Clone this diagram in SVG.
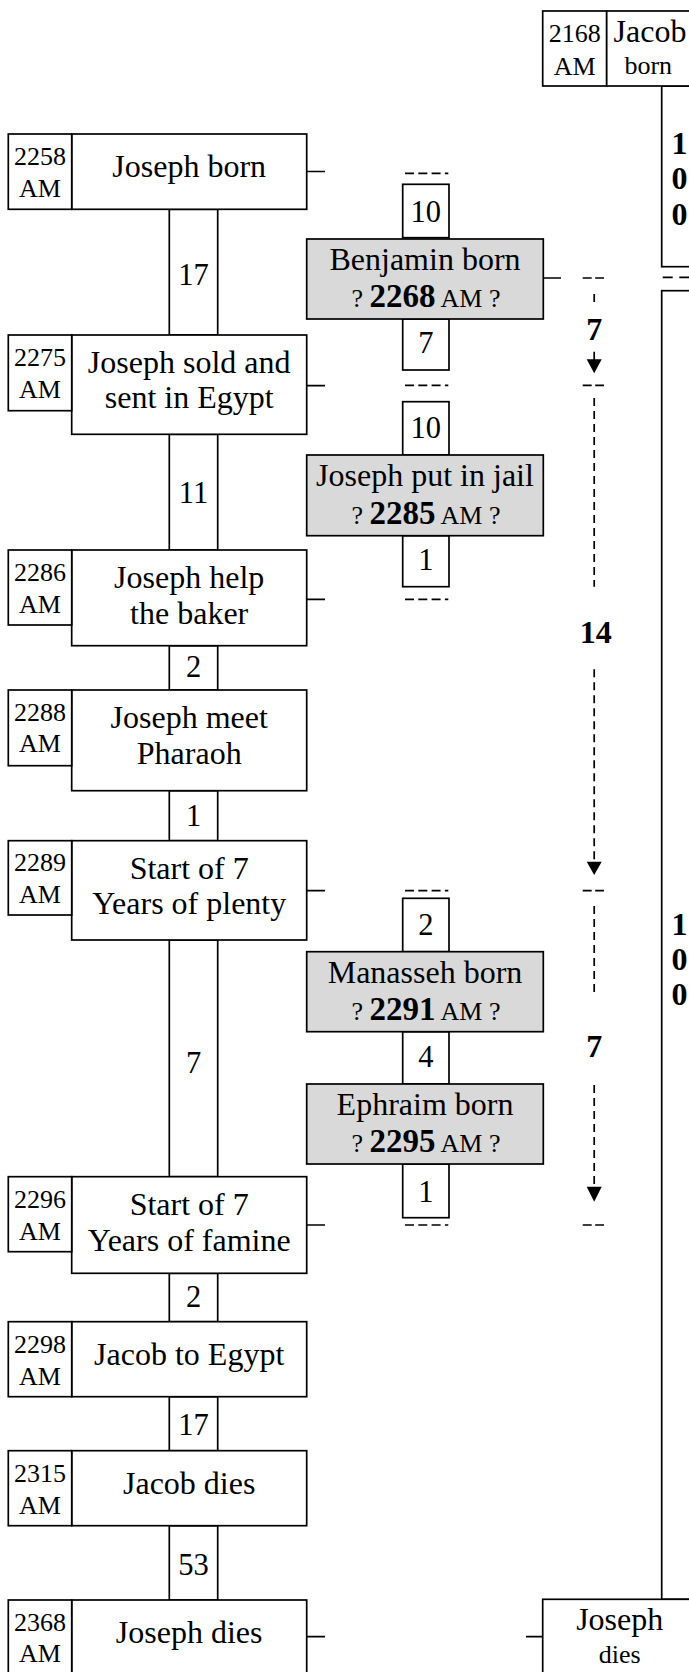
<svg xmlns="http://www.w3.org/2000/svg" width="689" height="1672" viewBox="0 0 689 1672">
<style>
.box{fill:#fff;stroke:#000;stroke-width:1.7}
.gray{fill:#d9d9d9;stroke:#000;stroke-width:1.7}
.ln{fill:none;stroke:#000;stroke-width:1.7}
.hd{fill:none;stroke:#000;stroke-width:1.7;stroke-dasharray:9 4.3}
.pd{fill:none;stroke:#000;stroke-width:1.7;stroke-dasharray:9 3.5}
.vd{fill:none;stroke:#000;stroke-width:1.7;stroke-dasharray:8 5}
.ah{fill:#000;stroke:none}
text{font-family:"Liberation Serif","Times New Roman",serif;fill:#000;text-anchor:middle}
.t{font-size:32px}
.d{font-size:26px}
.n{font-size:30.5px}
.s{font-size:26px}
.b{font-weight:bold;font-size:33px}
.bn{font-size:32px;font-weight:bold}
.bc{font-size:32px;font-weight:bold}
</style>
<rect width="689" height="1672" fill="#fff"/>

<g id="connectors">
  <!-- left duration connectors -->
  <rect class="box" x="169.3" y="209.3" width="48.4" height="125.7"/><text class="n" x="193.5" y="285">17</text>
  <rect class="box" x="169.3" y="434.3" width="48.4" height="115.7"/><text class="n" x="193.5" y="503.3">11</text>
  <rect class="box" x="169.3" y="645.7" width="48.4" height="44.3"/><text class="n" x="193.5" y="676.7">2</text>
  <rect class="box" x="169.3" y="790.7" width="48.4" height="50"/><text class="n" x="193.5" y="826">1</text>
  <rect class="box" x="169.3" y="940" width="48.4" height="236.7"/><text class="n" x="193.5" y="1073.3">7</text>
  <rect class="box" x="169.3" y="1273.3" width="48.4" height="48.4"/><text class="n" x="193.5" y="1307.3">2</text>
  <rect class="box" x="169.3" y="1396.7" width="48.4" height="54"/><text class="n" x="193.5" y="1435">17</text>
  <rect class="box" x="169.3" y="1525.7" width="48.4" height="74.3"/><text class="n" x="193.5" y="1575">53</text>

  <!-- middle duration boxes -->
  <rect class="box" x="402.7" y="184.3" width="46.3" height="53.4"/><text class="n" x="425.8" y="221.7">10</text>
  <rect class="box" x="402.7" y="319" width="46.3" height="51"/><text class="n" x="425.8" y="353.3">7</text>
  <rect class="box" x="402.7" y="401.7" width="46.3" height="53.3"/><text class="n" x="425.8" y="438.3">10</text>
  <rect class="box" x="402.7" y="535.7" width="46.3" height="51"/><text class="n" x="425.8" y="570">1</text>
  <rect class="box" x="402.7" y="898.3" width="46.3" height="53.4"/><text class="n" x="425.8" y="935">2</text>
  <rect class="box" x="402.7" y="1031.7" width="46.3" height="52.3"/><text class="n" x="425.8" y="1066.7">4</text>
  <rect class="box" x="402.7" y="1164" width="46.3" height="53.7"/><text class="n" x="425.8" y="1201.7">1</text>

  <!-- ticks -->
  <path class="ln" d="M306.7 171.5H325 M306.7 385.7H325 M306.7 599.3H325 M306.7 890.7H325 M306.7 1225H325 M306.7 1636.7H325 M543.3 278H561 M526 1636.7H542.7"/>

  <!-- middle dashed marks -->
  <path class="hd" d="M405 173.3H448.3 M405 385.3H448.3 M405 599.3H448.3 M405 890.7H448.3 M405 1225H448.3"/>
  <path class="pd" d="M582.7 278H604 M582.7 385.3H604 M582.7 890.7H604 M582.7 1225H604"/>
  <path class="ln" d="M662.7 277.3H672.7 M679.3 277.3H689"/>

  <!-- right dashed span arrows -->
  <path class="ln" d="M594.2 294V302 M594.2 351.7V360"/>
  <text class="bn" x="594.2" y="340">7</text>
  <path class="ah" d="M586.7 359.3H601.7L594.2 373.3Z"/>

  <path class="vd" d="M594.2 398V586.7 M594.2 669.3V862"/>
  <text class="bn" x="595.7" y="643.3">14</text>
  <path class="ah" d="M586.7 861.7H601.7L594.2 875Z"/>

  <path class="vd" d="M594.2 906V996.7 M594.2 1085V1187"/>
  <text class="bn" x="594.2" y="1056.7">7</text>
  <path class="ah" d="M586.7 1186.7H601.7L594.2 1201.7Z"/>

  <!-- 100 year spans -->
  <rect class="box" x="661.7" y="86" width="60" height="180.7"/>
  <text class="bc" x="679.5" y="153.5">1</text><text class="bc" x="679.5" y="189">0</text><text class="bc" x="679.5" y="225">0</text>
  <rect class="box" x="661.7" y="290.7" width="60" height="1308.6"/>
  <text class="bc" x="679.5" y="935">1</text><text class="bc" x="679.5" y="970">0</text><text class="bc" x="679.5" y="1005">0</text>
</g>

<g id="jacob-born">
  <rect class="box" x="542.7" y="11" width="64" height="75"/>
  <rect class="box" x="606.7" y="11" width="84" height="75"/>
  <text class="d" x="574.7" y="41.7">2168</text><text class="d" x="574.7" y="75">AM</text>
  <text class="t" x="650" y="41.7">Jacob</text><text class="d" x="648.3" y="74">born</text>
</g>

<g id="joseph-born">
  <rect class="box" x="71.7" y="134" width="235" height="75.3"/>
  <rect class="box" x="8.3" y="134" width="63.4" height="75.3"/>
  <text class="d" x="40" y="165">2258</text><text class="d" x="40" y="196.7">AM</text>
  <text class="t" x="189.2" y="176.7">Joseph born</text>
</g>

<g id="joseph-sold">
  <rect class="box" x="71.7" y="335" width="235" height="99.3"/>
  <rect class="box" x="8.3" y="335" width="63.4" height="75.7"/>
  <text class="d" x="40" y="366">2275</text><text class="d" x="40" y="398.3">AM</text>
  <text class="t" x="189.2" y="373.3">Joseph sold and</text><text class="t" x="189.2" y="408.3">sent in Egypt</text>
</g>

<g id="joseph-help">
  <rect class="box" x="71.7" y="550" width="235" height="95.7"/>
  <rect class="box" x="8.3" y="550" width="63.4" height="75"/>
  <text class="d" x="40" y="581">2286</text><text class="d" x="40" y="613">AM</text>
  <text class="t" x="189.2" y="588.3">Joseph help</text><text class="t" x="189.2" y="624">the baker</text>
</g>

<g id="joseph-meet">
  <rect class="box" x="71.7" y="690" width="235" height="100.7"/>
  <rect class="box" x="8.3" y="690" width="63.4" height="75.7"/>
  <text class="d" x="40" y="721.3">2288</text><text class="d" x="40" y="752.3">AM</text>
  <text class="t" x="189.2" y="728.3">Joseph meet</text><text class="t" x="189.2" y="764">Pharaoh</text>
</g>

<g id="years-plenty">
  <rect class="box" x="71.7" y="840.7" width="235" height="99.3"/>
  <rect class="box" x="8.3" y="840.7" width="63.4" height="74.3"/>
  <text class="d" x="40" y="871.3">2289</text><text class="d" x="40" y="903.3">AM</text>
  <text class="t" x="189.2" y="878.5">Start of 7</text><text class="t" x="189.2" y="913.5">Years of plenty</text>
</g>

<g id="years-famine">
  <rect class="box" x="71.7" y="1176.7" width="235" height="96.6"/>
  <rect class="box" x="8.3" y="1176.7" width="63.4" height="75"/>
  <text class="d" x="40" y="1207.7">2296</text><text class="d" x="40" y="1239.7">AM</text>
  <text class="t" x="189.2" y="1214.5">Start of 7</text><text class="t" x="189.2" y="1250.5">Years of famine</text>
</g>

<g id="jacob-to-egypt">
  <rect class="box" x="71.7" y="1321.7" width="235" height="75"/>
  <rect class="box" x="8.3" y="1321.7" width="63.4" height="75"/>
  <text class="d" x="40" y="1352.7">2298</text><text class="d" x="40" y="1384.7">AM</text>
  <text class="t" x="189.2" y="1365">Jacob to Egypt</text>
</g>

<g id="jacob-dies">
  <rect class="box" x="71.7" y="1450.7" width="235" height="75"/>
  <rect class="box" x="8.3" y="1450.7" width="63.4" height="75"/>
  <text class="d" x="40" y="1481.7">2315</text><text class="d" x="40" y="1513.5">AM</text>
  <text class="t" x="189.2" y="1493.5">Jacob dies</text>
</g>

<g id="joseph-dies">
  <rect class="box" x="71.7" y="1600" width="235" height="76"/>
  <rect class="box" x="8.3" y="1600" width="63.4" height="76"/>
  <text class="d" x="40" y="1630.5">2368</text><text class="d" x="40" y="1662">AM</text>
  <text class="t" x="189.2" y="1643.3">Joseph dies</text>
</g>

<g id="joseph-dies-right">
  <rect class="box" x="542.7" y="1599.3" width="154" height="80"/>
  <text class="t" x="619.7" y="1630">Joseph</text><text class="d" x="619.7" y="1663.3">dies</text>
</g>

<g id="benjamin-born">
  <rect class="gray" x="306.7" y="239" width="236.6" height="80"/>
  <text class="t" x="425" y="270">Benjamin born</text>
  <text class="s" x="426" y="307.3">? <tspan class="b">2268</tspan> AM ?</text>
</g>

<g id="joseph-jail">
  <rect class="gray" x="306.7" y="455" width="236.6" height="80.7"/>
  <text class="t" x="425" y="486">Joseph put in jail</text>
  <text class="s" x="426" y="524">? <tspan class="b">2285</tspan> AM ?</text>
</g>

<g id="manasseh-born">
  <rect class="gray" x="306.7" y="951.7" width="236.6" height="80"/>
  <text class="t" x="425" y="982.5">Manasseh born</text>
  <text class="s" x="426" y="1020">? <tspan class="b">2291</tspan> AM ?</text>
</g>

<g id="ephraim-born">
  <rect class="gray" x="306.7" y="1084" width="236.6" height="80"/>
  <text class="t" x="425" y="1115">Ephraim born</text>
  <text class="s" x="426" y="1152">? <tspan class="b">2295</tspan> AM ?</text>
</g>
</svg>
